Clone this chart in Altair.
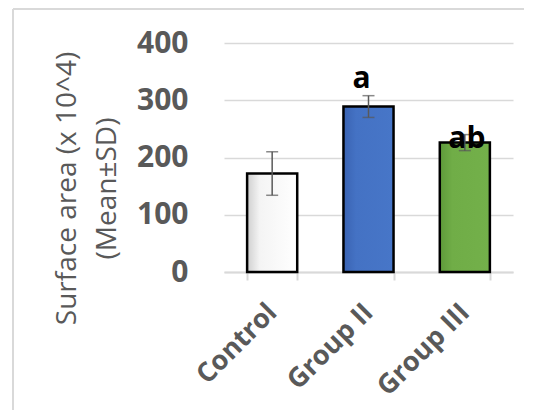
import altair as alt
import pandas as pd

groups = ["Control", "Group II", "Group III"]
means = [172, 289, 226]
sds = [38, 19, 14]
letters = ["", "a", "ab"]

fill_stops = {
    "Control": ["#CFCFCF", "#F4F4F4", "#FFFFFF"],
    "Group II": ["#3A63B2", "#4472C4", "#4776C8"],
    "Group III": ["#5E9A3A", "#70AD47", "#73B04A"],
}

df = pd.DataFrame({"group": groups, "mean": means, "sd": sds, "letter": letters})

GRAY = "#595959"
LIGHT = "#D9D9D9"

x_enc = alt.X(
    "group:N",
    title=None,
    scale=alt.Scale(domain=groups, paddingInner=0.48, paddingOuter=0.24),
    axis=alt.Axis(
        labelAngle=315,
        labelAlign="right",
        labelBaseline="middle",
        labelPadding=28,
        labelFont="Open Sans",
        labelFontWeight="bold",
        labelFontSize=27,
        labelColor=GRAY,
        labelLimit=300,
        domainColor=LIGHT,
        domainWidth=2,
        tickColor=LIGHT,
        tickWidth=2,
        tickSize=8,
        tickBand="extent",
        grid=False,
    ),
)

y_axis = alt.Axis(
    values=[0, 100, 200, 300, 400],
    grid=True,
    gridColor=LIGHT,
    gridWidth=1.5,
    domain=False,
    ticks=False,
    labelPadding=36,
    labelFont="Open Sans",
    labelFontWeight="bold",
    labelFontSize=30,
    labelColor=GRAY,
    title=["Surface area (x 10^4)", "(Mean±SD)"],
    titleFont="Open Sans",
    titleFontWeight="normal",
    titleFontSize=28,
    titleColor=GRAY,
    titleAngle=270,
    titleAlign="center",
    titleBaseline="middle",
    titleLineHeight=40,
    titleX=-157,
    titleY=145,
)
y_enc = alt.Y("mean:Q", scale=alt.Scale(domain=[0, 400]), axis=y_axis)

base = alt.Chart(df)

bar_layers = []
for g in groups:
    c = fill_stops[g]
    grad = alt.LinearGradient(
        gradient="linear",
        x1=0, x2=1, y1=0, y2=0,
        stops=[
            alt.GradientStop(offset=0, color=c[0]),
            alt.GradientStop(offset=0.25, color=c[1]),
            alt.GradientStop(offset=1, color=c[2]),
        ],
    )
    bar_layers.append(
        base.transform_filter(alt.datum.group == g)
        .mark_bar(color=grad, stroke="black", strokeWidth=2.5)
        .encode(x=x_enc, y=y_enc)
    )

err = base.transform_calculate(lo="datum.mean - datum.sd", hi="datum.mean + datum.sd")
rule = err.mark_rule(color=GRAY, strokeWidth=1.5).encode(
    x=alt.X("group:N"), y=alt.Y("lo:Q"), y2="hi:Q"
)
cap_lo = err.mark_tick(color=GRAY, size=12, thickness=1.5, orient="horizontal").encode(
    x=alt.X("group:N"), y=alt.Y("lo:Q")
)
cap_hi = err.mark_tick(color=GRAY, size=12, thickness=1.5, orient="horizontal").encode(
    x=alt.X("group:N"), y=alt.Y("hi:Q")
)

txt_a = base.transform_filter(alt.datum.group == "Group II").mark_text(
    font="Open Sans", fontWeight="bold", fontSize=30, color="black",
    baseline="alphabetic", dy=-19, dx=-7
).encode(x=alt.X("group:N"), y=alt.Y("mean:Q"), text="letter:N")

txt_ab = base.transform_filter(alt.datum.group == "Group III").mark_text(
    font="Open Sans", fontWeight="bold", fontSize=30, color="black",
    baseline="alphabetic", dy=5, dx=2
).encode(x=alt.X("group:N"), y=alt.Y("mean:Q"), text="letter:N")

frame_df = pd.DataFrame({"k": [0]})
frame_left = alt.Chart(frame_df).mark_rule(color=LIGHT, strokeWidth=2).encode(
    x=alt.value(-211), y=alt.value(-34), y2=alt.value(380)
)
frame_top = alt.Chart(frame_df).mark_rule(color=LIGHT, strokeWidth=2).encode(
    x=alt.value(-211), x2=alt.value(330), y=alt.value(-34)
)

chart = alt.layer(
    frame_left, frame_top, *bar_layers, rule, cap_lo, cap_hi, txt_a, txt_ab
).properties(
    width=289,
    height=229,
    autosize="none",
    padding={"left": 216, "top": 35, "right": 11, "bottom": 138},
    background="white",
).configure_view(stroke=None)

chart.save("out.html", embed_options={"renderer": "svg", "actions": False})
